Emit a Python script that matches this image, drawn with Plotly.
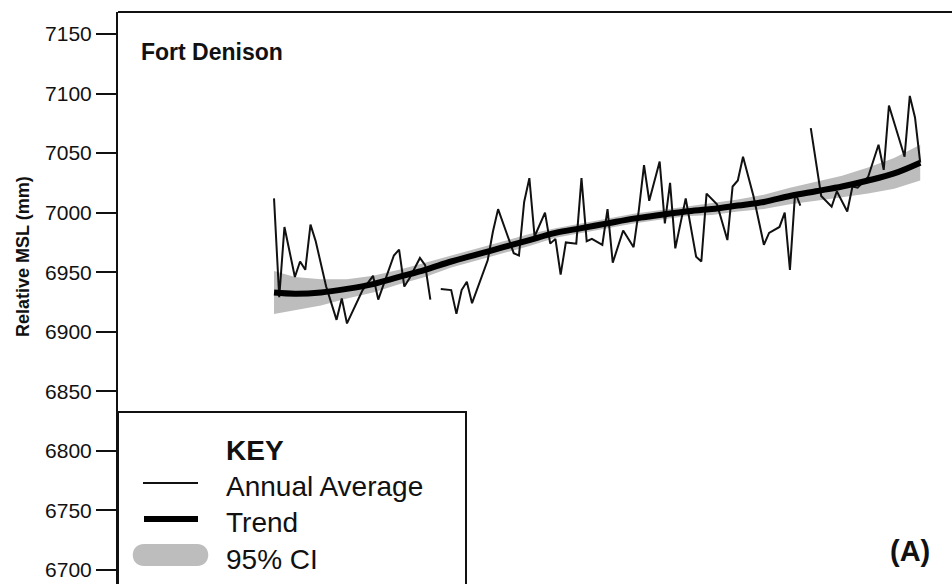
import plotly.graph_objects as go

# ---------------- data ----------------
annual_years = [1886, 1887, 1888, 1890, 1891, 1892, 1893, 1894, 1896, 1898,
                1899, 1900, 1903, 1905, 1906, 1909, 1910, 1911, 1912, 1914,
                1915, 1916, 1917, 1918, 1920, 1921, 1922, 1923, 1924, 1927,
                1928, 1929, 1932, 1933, 1934, 1935, 1936, 1938, 1939, 1940,
                1941, 1942, 1944, 1945, 1946, 1947, 1949, 1950, 1951, 1953,
                1955, 1956, 1957, 1958, 1960, 1961, 1962, 1963, 1965, 1967,
                1968, 1969, 1971, 1973, 1974, 1975, 1976, 1978, 1980, 1981,
                1983, 1984, 1985, 1986, 1987, 1988, 1989, 1991, 1993, 1994,
                1996, 1997, 1998, 2000, 2002, 2003, 2004, 2007, 2008, 2009,
                2010]
annual_msl = [7012, 6929, 6988, 6946, 6959, 6952, 6990, 6976, 6938, 6910,
              6928, 6907, 6935, 6947, 6927, 6964, 6969, 6938, 6945, 6962,
              6956, 6927, None, 6936, 6935, 6915, 6935, 6942, 6924, 6960,
              6984, 7003, 6966, 6964, 7009, 7029, 6980, 7000, 6974, 6978,
              6948, 6975, 6974, 7029, 6976, 6978, 6973, 7003, 6958, 6985,
              6971, 7002, 7040, 7010, 7043, 6991, 7025, 6970, 7012, 6963,
              6959, 7016, 7007, 6977, 7022, 7027, 7047, 7014, 6973, 6983,
              6988, 7000, 6952, 7017, 7006, None, 7071, 7014, 7005, 7018,
              7001, 7022, 7021, 7030, 7057, 7036, 7090, 7047, 7098, 7080,
              7042]

trend_years = [1886, 1890, 1895, 1900, 1905, 1910, 1915, 1920, 1925, 1930,
               1935, 1940, 1945, 1950, 1955, 1960, 1965, 1970, 1975, 1980,
               1985, 1990, 1995, 2000, 2005, 2010]
trend_msl = [6933, 6932, 6933, 6936, 6940, 6946, 6952, 6959, 6965, 6971,
             6977, 6983, 6987, 6991, 6995, 6998, 7001, 7003, 7006, 7009,
             7014, 7018, 7022, 7027, 7033, 7042]
ci_upper = [6951, 6946, 6944, 6944, 6947, 6952, 6958, 6964, 6970, 6976,
            6982, 6987, 6991, 6995, 6999, 7002, 7005, 7008, 7011, 7015,
            7021, 7026, 7031, 7038, 7046, 7057]
ci_lower = [6915, 6918, 6922, 6928, 6933, 6940, 6946, 6954, 6960, 6966,
            6972, 6979, 6983, 6987, 6991, 6994, 6997, 6998, 7001, 7003,
            7007, 7010, 7013, 7016, 7020, 7027]

y_ticks = [6700, 6750, 6800, 6850, 6900, 6950, 7000, 7050, 7100, 7150]

# ---------------- figure ----------------
W, H = 952, 584
L, T = 118, 12
PW, PH = W - L, H - T
FONT = "Liberation Sans, Arial, Helvetica, sans-serif"


def px(X):
    return (X - L) / PW


def py(Y):
    return (H - Y) / PH


fig = go.Figure()

fig.add_trace(go.Scatter(
    x=trend_years + trend_years[::-1],
    y=ci_upper + ci_lower[::-1],
    fill="toself", fillcolor="#bdbdbd",
    line=dict(width=0), mode="lines", hoverinfo="skip", showlegend=False))

fig.add_trace(go.Scatter(
    x=annual_years, y=annual_msl, mode="lines",
    line=dict(color="#111111", width=2), connectgaps=False, showlegend=False))

fig.add_trace(go.Scatter(
    x=trend_years, y=trend_msl, mode="lines",
    line=dict(color="#000000", width=6, shape="spline"), showlegend=False))

shapes = []
# top frame line
shapes.append(dict(type="line", xref="paper", yref="paper",
                   x0=0, x1=1, y0=1, y1=1, line=dict(color="#111", width=2)))
# legend box
shapes.append(dict(type="rect", xref="paper", yref="paper",
                   x0=px(118), x1=px(466), y0=-0.02, y1=py(412),
                   fillcolor="white", line=dict(color="#111", width=2),
                   layer="above"))
# legend samples
shapes.append(dict(type="line", xref="paper", yref="paper",
                   x0=px(143), x1=px(198), y0=py(483), y1=py(483),
                   line=dict(color="#111", width=2), layer="above"))
shapes.append(dict(type="line", xref="paper", yref="paper",
                   x0=px(144), x1=px(198), y0=py(519), y1=py(519),
                   line=dict(color="#000", width=6), layer="above"))
# rounded grey bar
x_a, x_b, y_t, y_b = 144, 197, 544, 566
path = (f"M {px(x_a)},{py(y_t)} L {px(x_b)},{py(y_t)} "
        f"C {px(x_b + 15)},{py(y_t)} {px(x_b + 15)},{py(y_b)} {px(x_b)},{py(y_b)} "
        f"L {px(x_a)},{py(y_b)} "
        f"C {px(x_a - 15)},{py(y_b)} {px(x_a - 15)},{py(y_t)} {px(x_a)},{py(y_t)} Z")
shapes.append(dict(type="path", xref="paper", yref="paper", path=path,
                   fillcolor="#bdbdbd", line=dict(width=0), layer="above"))

annotations = [
    dict(text="<b>Fort Denison</b>", x=px(139), y=py(52), xref="paper", yref="paper",
         xanchor="left", yanchor="middle", showarrow=False,
         font=dict(family=FONT, size=23, color="#111")),
    dict(text="<b>(A)</b>", x=px(932), y=py(551), xref="paper", yref="paper",
         xanchor="right", yanchor="middle", showarrow=False,
         font=dict(family=FONT, size=29, color="#111")),
    dict(text="<b>KEY</b>", x=px(224), y=py(450), xref="paper", yref="paper",
         xanchor="left", yanchor="middle", showarrow=False,
         font=dict(family=FONT, size=28, color="#111")),
    dict(text="Annual Average", x=px(224), y=py(486), xref="paper", yref="paper",
         xanchor="left", yanchor="middle", showarrow=False,
         font=dict(family=FONT, size=28, color="#111")),
    dict(text="Trend", x=px(224), y=py(522), xref="paper", yref="paper",
         xanchor="left", yanchor="middle", showarrow=False,
         font=dict(family=FONT, size=28, color="#111")),
    dict(text="95% CI", x=px(224), y=py(559), xref="paper", yref="paper",
         xanchor="left", yanchor="middle", showarrow=False,
         font=dict(family=FONT, size=28, color="#111")),
    dict(text="<b>Relative MSL (mm)</b>", x=-(L - 23) / PW, y=py(257),
         xref="paper", yref="paper", textangle=-90,
         xanchor="center", yanchor="middle", showarrow=False,
         font=dict(family=FONT, size=18, color="#111")),
]

fig.update_layout(
    width=W, height=H,
    margin=dict(l=L, r=0, t=T, b=0),
    paper_bgcolor="white", plot_bgcolor="white",
    shapes=shapes, annotations=annotations,
    showlegend=False,
    xaxis=dict(range=[1856.06, 2016.1], visible=False, showgrid=False),
    yaxis=dict(range=[6688.2, 7168.5], tickvals=y_ticks,
               ticks="outside", ticklen=20, tickwidth=2, tickcolor="#111",
               showline=True, linecolor="#111", linewidth=2,
               showgrid=False, zeroline=False,
               tickfont=dict(family=FONT, size=21, color="#111")),
)

fig.write_html("out.html",
               config={"displayModeBar": False},
               post_script="document.body.style.margin='0';"
                           "document.body.style.overflow='hidden';")
